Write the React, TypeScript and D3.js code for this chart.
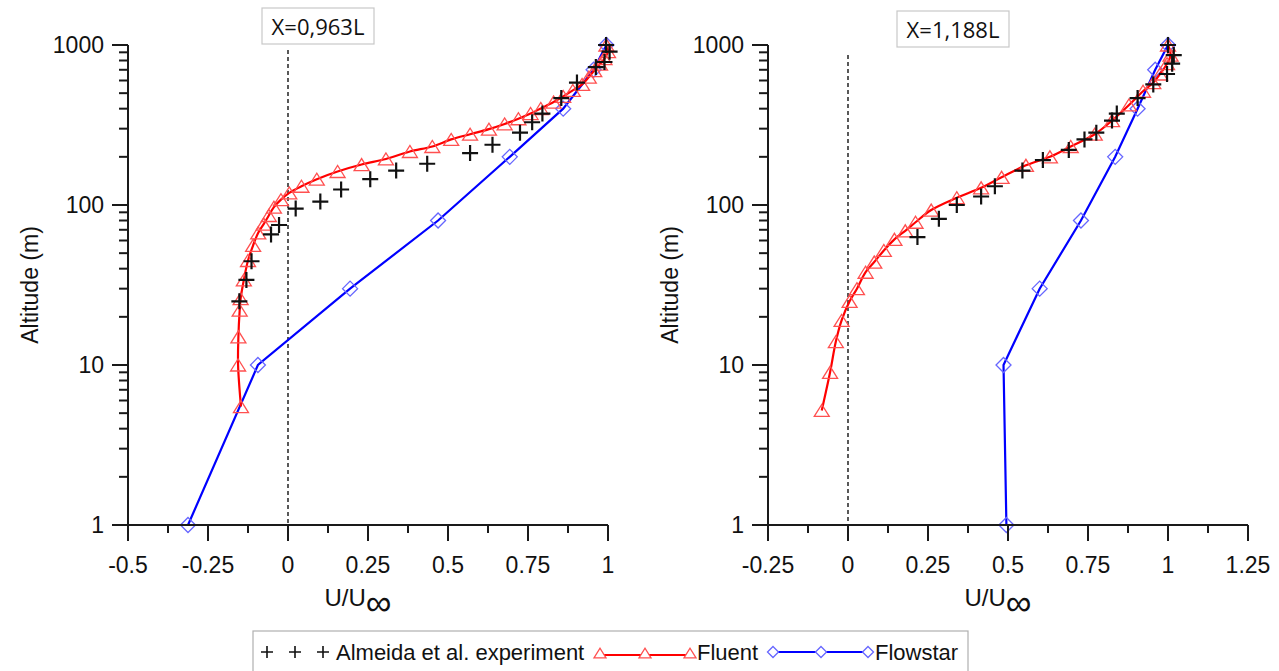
import React from 'react';
import * as d3 from 'd3';

// ---------- data ----------
const yMajorTicks = [1, 10, 100, 1000];
const leftXTicks = [-0.5, -0.25, 0, 0.25, 0.5, 0.75, 1];
const rightXTicks = [-0.25, 0, 0.25, 0.5, 0.75, 1, 1.25];

// Left panel (X=0,963L)
const leftExpAlt = [25, 34, 44.5, 65.5, 75, 95, 105, 125, 145, 164, 181, 211, 238, 283, 329, 373, 466, 582, 728, 783, 908, 1000];
const leftExpU = [-0.152, -0.13, -0.114, -0.053, -0.028, 0.024, 0.101, 0.166, 0.257, 0.338, 0.435, 0.569, 0.639, 0.725, 0.763, 0.795, 0.854, 0.903, 0.962, 0.989, 1.005, 0.994];

const leftFluentAlt = [5.5, 10, 15, 22, 26, 34, 45, 56, 67, 76, 86, 97, 108, 119, 131, 145, 162, 179, 194, 216, 232, 257, 277, 298, 321, 346, 373, 401, 440, 477, 520, 567, 630, 692, 760, 823, 908, 1000];
const leftFluentU = [-0.147, -0.156, -0.155, -0.151, -0.148, -0.138, -0.125, -0.109, -0.093, -0.076, -0.06, -0.044, -0.022, 0.004, 0.042, 0.09, 0.155, 0.23, 0.306, 0.381, 0.451, 0.51, 0.569, 0.628, 0.677, 0.72, 0.758, 0.79, 0.83, 0.86, 0.89, 0.919, 0.94, 0.957, 0.975, 0.989, 1.0, 0.995];

const leftFlowAlt = [1, 10, 30, 80, 200, 400, 700, 1000];
const leftFlowU = [-0.3125, -0.094, 0.194, 0.469, 0.693, 0.86, 0.955, 0.995];

// Right panel (X=1,188L)
const rightExpAlt = [63, 82, 100, 113, 131, 164, 191, 221, 257, 283, 337, 373, 466, 567, 659, 764, 865, 1000];
const rightExpU = [0.217, 0.284, 0.34, 0.416, 0.459, 0.545, 0.609, 0.69, 0.739, 0.776, 0.825, 0.84, 0.905, 0.954, 0.997, 1.013, 1.018, 1.0];

const rightFluentAlt = [5.2, 9, 14, 19, 25, 30, 38, 44, 52, 61, 69, 78, 93, 111, 128, 149, 177, 200, 232, 277, 337, 422, 514, 582, 659, 764, 865, 1000];
const rightFluentU = [-0.082, -0.056, -0.038, -0.02, 0.005, 0.028, 0.055, 0.082, 0.112, 0.145, 0.179, 0.211, 0.26, 0.34, 0.416, 0.48, 0.556, 0.631, 0.696, 0.771, 0.825, 0.878, 0.922, 0.954, 0.975, 0.997, 1.008, 1.0];

const rightFlowAlt = [1, 10, 30, 80, 200, 400, 700, 1000];
const rightFlowU = [0.495, 0.486, 0.599, 0.728, 0.835, 0.905, 0.96, 1.0];

const legendLabels = ['Almeida et al. experiment', 'Fluent', 'Flowstar'];

// ---------- style ----------
const FONT = 'Liberation Sans, Arial, sans-serif';
const RED = '#ff0000';
const RED_M = '#ff5050';
const BLUE = '#0000ff';
const BLUE_M = '#6666ff';
const AXIS = '#1a1a1a';

const zip = (a: number[], u: number[]) => a.map((v, i) => ({ alt: v, u: u[i] }));

const triPath = (x: number, y: number, s = 15) => {
  const h = s * 0.8;
  return `M${x - s / 2},${y + h / 2}L${x},${y - h / 2}L${x + s / 2},${y + h / 2}Z`;
};
const diaPath = (x: number, y: number, s = 7.5) => `M${x},${y - s}L${x + s},${y}L${x},${y + s}L${x - s},${y}Z`;
const plusPath = (x: number, y: number, s = 8) => `M${x - s},${y}H${x + s}M${x},${y - s}V${y + s}`;

type PanelProps = {
  left: number;
  xDomain: [number, number];
  xTicks: number[];
  exp: { alt: number; u: number }[];
  fluent: { alt: number; u: number }[];
  flow: { alt: number; u: number }[];
  label: string;
  boxX: number;
  boxY: number;
  dashTop: number;
};

function Panel(p: PanelProps) {
  const width = 480;
  const x = d3.scaleLinear().domain(p.xDomain).range([p.left, p.left + width]);
  const y = d3.scaleLog().domain([1, 1000]).range([525, 45]);
  const minorY: number[] = [];
  [1, 10, 100].forEach((d) => {
    for (let k = 2; k <= 9; k++) minorY.push(d * k);
  });
  const minorX = p.xTicks.slice(1).map((t, i) => (t + p.xTicks[i]) / 2);
  const redLine = d3
    .line<{ alt: number; u: number }>()
    .x((d) => x(d.u))
    .y((d) => y(d.alt))
    .curve(d3.curveCatmullRom.alpha(0.5));
  const blueLine = d3
    .line<{ alt: number; u: number }>()
    .x((d) => x(d.u))
    .y((d) => y(d.alt));
  const x0 = x(p.xDomain[0]);
  const yb = y(1);
  const cx = p.left + width / 2;
  return (
    <g>
      {/* dashed zero line */}
      <line x1={x(0)} x2={x(0)} y1={p.dashTop} y2={yb} stroke="#000" strokeWidth={1.3} strokeDasharray="4,3" />
      {/* blue */}
      <path d={blueLine(p.flow) || ''} fill="none" stroke={BLUE} strokeWidth={2.2} />
      {p.flow.map((d, i) => (
        <path key={'f' + i} d={diaPath(x(d.u), y(d.alt))} fill="none" stroke={BLUE_M} strokeWidth={1.3} />
      ))}
      {/* red */}
      <path d={redLine(p.fluent) || ''} fill="none" stroke={RED} strokeWidth={2.2} />
      {p.fluent.map((d, i) => (
        <path key={'r' + i} d={triPath(x(d.u), y(d.alt))} fill="none" stroke={RED_M} strokeWidth={1.3} />
      ))}
      {/* experiment */}
      {p.exp.map((d, i) => (
        <path key={'e' + i} d={plusPath(x(d.u), y(d.alt))} fill="none" stroke="#111" strokeWidth={2.2} />
      ))}
      {/* axes */}
      <line x1={x0} x2={x0} y1={y(1000)} y2={yb} stroke={AXIS} strokeWidth={2} />
      <line x1={x0 - 16} x2={p.left + width} y1={yb} y2={yb} stroke={AXIS} strokeWidth={2} />
      {yMajorTicks.map((t) => (
        <g key={'ym' + t}>
          <line x1={x0 - 16} x2={x0} y1={y(t)} y2={y(t)} stroke={AXIS} strokeWidth={2} />
          <text x={x0 - 24} y={y(t) + 8} textAnchor="end" fontFamily={FONT} fontSize={23} fill="#111">
            {t}
          </text>
        </g>
      ))}
      {minorY.map((t) => (
        <line key={'yn' + t} x1={x0 - 9} x2={x0} y1={y(t)} y2={y(t)} stroke={AXIS} strokeWidth={2} />
      ))}
      {p.xTicks.map((t) => (
        <g key={'xm' + t}>
          <line x1={x(t)} x2={x(t)} y1={yb} y2={yb + 16} stroke={AXIS} strokeWidth={2} />
          <text x={x(t)} y={yb + 48} textAnchor="middle" fontFamily={FONT} fontSize={23} fill="#111">
            {String(t)}
          </text>
        </g>
      ))}
      {minorX.map((t) => (
        <line key={'xn' + t} x1={x(t)} x2={x(t)} y1={yb} y2={yb + 8} stroke={AXIS} strokeWidth={2} />
      ))}
      {/* axis titles */}
      <text x={cx - 10} y={606} textAnchor="middle" fontFamily={FONT} fontSize={24} fill="#111">
        U/U
        <tspan fontSize={36} dy={9}>∞</tspan>
      </text>
      <text
        transform={`translate(${p.left - 90},285) rotate(-90)`}
        textAnchor="middle"
        fontFamily={FONT}
        fontSize={23}
        fill="#111"
      >
        Altitude (m)
      </text>
      {/* annotation box */}
      <rect x={p.boxX} y={p.boxY} width={112} height={36} fill="#fff" stroke="#c8c8c8" strokeWidth={1.2} />
      <text x={p.boxX + 56} y={p.boxY + 27} textAnchor="middle" fontFamily="Open Sans, sans-serif" fontSize={22} fill="#111">
        {p.label}
      </text>
    </g>
  );
}

export default function App() {
  const legendY = 652;
  return (
    <svg width={1279} height={671} style={{ position: 'absolute', left: 0, top: 0, background: '#fff' }}>
      <rect x={0} y={0} width={1279} height={671} fill="#fff" />
      <Panel
        left={128}
        xDomain={[-0.5, 1]}
        xTicks={leftXTicks}
        exp={zip(leftExpAlt, leftExpU)}
        fluent={zip(leftFluentAlt, leftFluentU)}
        flow={zip(leftFlowAlt, leftFlowU)}
        label="X=0,963L"
        boxX={262}
        boxY={8}
        dashTop={50}
      />
      <Panel
        left={768}
        xDomain={[-0.25, 1.25]}
        xTicks={rightXTicks}
        exp={zip(rightExpAlt, rightExpU)}
        fluent={zip(rightFluentAlt, rightFluentU)}
        flow={zip(rightFlowAlt, rightFlowU)}
        label="X=1,188L"
        boxX={897}
        boxY={11}
        dashTop={55}
      />
      {/* legend */}
      <rect x={253} y={631} width={715} height={45} fill="#fff" stroke="#b0b0b0" strokeWidth={1.2} />
      {[267, 295, 323].map((px) => (
        <path key={'lp' + px} d={plusPath(px, legendY, 6)} stroke="#111" strokeWidth={1.6} fill="none" />
      ))}
      <text x={336} y={legendY + 8} fontFamily={FONT} fontSize={22} fill="#111">
        {legendLabels[0]}
      </text>
      <line x1={600} x2={690} y1={legendY + 3} y2={legendY + 3} stroke={RED} strokeWidth={2.2} />
      {[600, 645, 690].map((px) => (
        <path key={'lt' + px} d={triPath(px, legendY + 1, 12)} stroke={RED_M} strokeWidth={1.3} fill="#fff" />
      ))}
      <text x={697} y={legendY + 8} fontFamily={FONT} fontSize={22} fill="#111">
        {legendLabels[1]}
      </text>
      <line x1={773} x2={868} y1={legendY} y2={legendY} stroke={BLUE} strokeWidth={2.2} />
      {[773, 821, 868].map((px) => (
        <path key={'ld' + px} d={diaPath(px, legendY, 5.5)} stroke={BLUE_M} strokeWidth={1.3} fill="#fff" />
      ))}
      <text x={875} y={legendY + 8} fontFamily={FONT} fontSize={22} fill="#111">
        {legendLabels[2]}
      </text>
    </svg>
  );
}
